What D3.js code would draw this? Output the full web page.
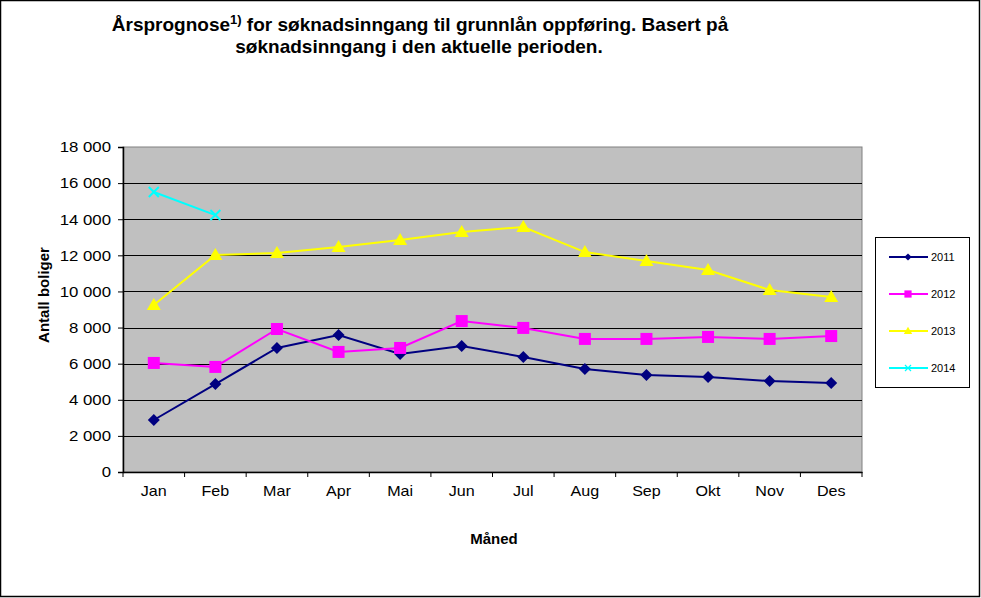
<!DOCTYPE html>
<html><head><meta charset="utf-8">
<script src="https://cdn.jsdelivr.net/npm/d3@7"></script>
<style>body{margin:0;background:#fff}svg{display:block;font-family:"Liberation Sans",Arial,sans-serif}</style>
</head><body>
<svg id="c" width="981" height="598"></svg>
<script>
const months = ["Jan","Feb","Mar","Apr","Mai","Jun","Jul","Aug","Sep","Okt","Nov","Des"];
const yTicks = [0,2000,4000,6000,8000,10000,12000,14000,16000,18000];
const s2011 = [2880,4870,6870,7590,6540,6980,6370,5700,5370,5260,5040,4930];
const s2012 = [6040,5820,7920,6650,6870,8360,7980,7370,7370,7480,7370,7530];
const s2013 = [9250,12020,12130,12460,12850,13290,13570,12180,11680,11190,10080,9690];
const s2014 = [15510,14230];
const seriesNames = ["2011","2012","2013","2014"];
const seriesColors = ["#000080","#FF00FF","#FFFF00","#00FFFF"];
const seriesShapes = ["diamond","square","triangle","x"];
const seriesData = [s2011,s2012,s2013,s2014];

const svg = d3.select("#c");
svg.append("rect").attr("x",0.5).attr("y",0.5).attr("width",979).attr("height",596)
  .attr("fill","#fff").attr("stroke","#000").attr("stroke-width",1.5);

const L=123,R=862,T=147,B=472;
const x = d3.scaleBand().domain(months).range([L,R]);
const y = d3.scaleLinear().domain([0,18000]).range([B,T]);

svg.append("rect").attr("x",L).attr("y",T).attr("width",R-L).attr("height",B-T)
  .attr("fill","#C0C0C0").attr("stroke","#808080").attr("stroke-width",1);

svg.append("g").selectAll("line").data(yTicks.filter(d=>d>0&&d<18000)).join("line")
  .attr("x1",L).attr("x2",R).attr("y1",d=>Math.round(y(d))+0.5).attr("y2",d=>Math.round(y(d))+0.5)
  .attr("stroke","#000").attr("stroke-width",1);

const fmt = d => d3.format(",")(d).replace(/,/g," ");
const ya = svg.append("g").attr("transform",`translate(${L},0)`)
  .call(d3.axisLeft(y).tickValues(yTicks).tickSize(5).tickFormat(fmt));
ya.select(".domain").attr("stroke","#000").attr("stroke-width",1.5);
ya.selectAll(".tick line").attr("stroke","#000");
ya.selectAll("text").attr("font-size",15).attr("fill","#000").attr("font-family","Liberation Sans, Arial")
  .attr("x",0).attr("transform","translate(-12,0) scale(1.12,1)");

const xa = svg.append("g").attr("transform",`translate(0,${B})`)
  .call(d3.axisBottom(x).tickSize(0).tickPadding(14));
xa.select(".domain").attr("stroke","#000").attr("stroke-width",1.5);
xa.selectAll("text").attr("font-size",14).attr("fill","#000").attr("font-family","Liberation Sans, Arial")
  .attr("transform","scale(1.15,1)");
svg.append("g").selectAll("line").data(months.map(m=>x(m)).concat([R])).join("line")
  .attr("x1",d=>d).attr("x2",d=>d).attr("y1",B).attr("y2",B+5).attr("stroke","#000");

const cx = i => x(months[i]) + x.bandwidth()/2;

function drawMarker(g, shape, color, px, py){
  if(shape==="diamond"){
    g.append("path").attr("d",`M${px},${py-6}L${px+6},${py}L${px},${py+6}L${px-6},${py}Z`).attr("fill",color);
  } else if(shape==="square"){
    g.append("rect").attr("x",px-6).attr("y",py-6).attr("width",12).attr("height",12).attr("fill",color);
  } else if(shape==="triangle"){
    g.append("path").attr("d",`M${px},${py-7}L${px+7},${py+5}L${px-7},${py+5}Z`).attr("fill",color);
  } else {
    g.append("path").attr("d",`M${px-5},${py-5}L${px+5},${py+5}M${px-5},${py+5}L${px+5},${py-5}`).attr("stroke",color).attr("stroke-width",2);
  }
}

const line = d3.line().x((d,i)=>cx(i)).y(d=>y(d));
seriesData.forEach((data,k)=>{
  const g = svg.append("g");
  g.append("path").datum(data).attr("d",line).attr("fill","none")
    .attr("stroke",seriesColors[k]).attr("stroke-width",2);
  data.forEach((v,i)=>drawMarker(g,seriesShapes[k],seriesColors[k],cx(i),y(v)));
});

svg.append("rect").attr("x",875.5).attr("y",237.5).attr("width",94).attr("height",150)
  .attr("fill","#fff").attr("stroke","#000").attr("stroke-width",1);
const legY = [257,294,331,368];
seriesNames.forEach((n,k)=>{
  const g = svg.append("g");
  g.append("line").attr("x1",889).attr("x2",928).attr("y1",legY[k]).attr("y2",legY[k])
    .attr("stroke",seriesColors[k]).attr("stroke-width",2);
  const sc = svg.append("g").attr("transform",`translate(908,${legY[k]}) scale(0.6) translate(-908,${-legY[k]})`);
  drawMarker(sc,seriesShapes[k],seriesColors[k],908,legY[k]);
  g.append("text").attr("x",931).attr("y",legY[k]).attr("dy","0.35em").attr("font-size",11).text(n);
});

const t = svg.append("text").attr("x",420).attr("y",31).attr("text-anchor","middle")
  .attr("font-size",19).attr("font-weight","bold");
t.append("tspan").text("Årsprognose");
t.append("tspan").attr("font-size",13).attr("dy",-7).text("1)");
t.append("tspan").attr("dy",7).text(" for søknadsinngang til grunnlån oppføring. Basert på");
svg.append("text").attr("x",419).attr("y",53).attr("text-anchor","middle")
  .attr("font-size",19).attr("font-weight","bold").text("søknadsinngang i den aktuelle perioden.");

svg.append("text").attr("x",494).attr("y",544).attr("text-anchor","middle")
  .attr("font-size",15).attr("font-weight","bold").text("Måned");
svg.append("text").attr("transform","translate(49,295) rotate(-90)").attr("text-anchor","middle")
  .attr("font-size",15).attr("font-weight","bold").text("Antall boliger");
</script>
</body></html>
